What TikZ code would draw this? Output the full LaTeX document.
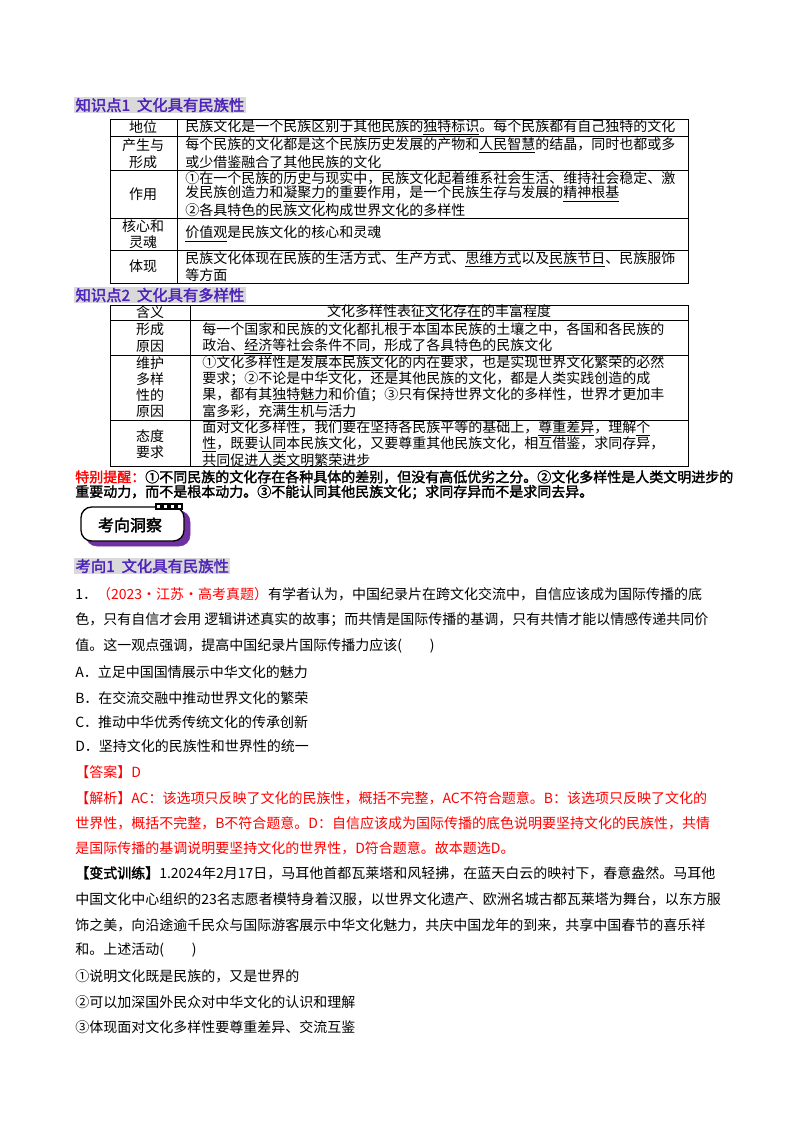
\documentclass[tikz,border=0pt]{standalone}
\usepackage{fontspec}
\setmainfont{Noto Sans CJK SC}[AutoFakeBold=2]
\begin{document}
\begin{tikzpicture}[x=0.75pt,y=-0.75pt,
 L/.style={anchor=west,inner sep=0pt,font=\fontsize{10.5}{12}\selectfont},
 C/.style={inner sep=0pt,font=\fontsize{10.5}{12}\selectfont},
 R/.style={L,text=red},
 H/.style={anchor=west,inner sep=1pt,fill=black!15,text=purple!70!blue,font=\fontsize{11.5}{13}\selectfont\bfseries},
 tb/.style={line width=0.6pt}]
\definecolor{purple}{HTML}{7030A0}
\useasboundingbox (0,0) rectangle (800,1132);
% ---- heading 1
\node[H] (h1) at (74,105) {知识点1\ \ 文化具有民族性};
\draw[tb] (110,119) rectangle (688,283);
\foreach \y in {136,170,218,250} \draw[tb] (110,\y) -- (688,\y);
\draw[tb] (177,119) -- (177,283);
\node[C] at (143,127) {地位};
\node[C] at (143,145) {产生与}; \node[C] at (143,162) {形成};
\node[C] at (143,194) {作用};
\node[C] at (143,226) {核心和}; \node[C] at (143,242) {灵魂};
\node[C] at (143,266) {体现};
\node[L] at (185,127) {民族文化是一个民族区别于其他民族的\underline{独特标识}。每个民族都有自己独特的文化};
\node[L] at (185,145) {每个民族的文化都是这个民族历史发展的产物和\underline{人民智慧}的结晶，同时也都或多};
\node[L] at (185,162) {或少借鉴融合了其他民族的文化};
\node[L] at (185,178) {①在一个民族的历史与现实中，民族文化起着维系社会生活、维持社会稳定、激};
\node[L] at (185,194) {发民族创造力和\underline{凝聚力}的重要作用，是一个民族生存与发展的\underline{精神根基}};
\node[L] at (185,210) {②各具特色的民族文化构成世界文化的多样性};
\node[L] at (185,234) {\underline{价值观}是民族文化的核心和灵魂};
\node[L] at (185,259) {民族文化体现在民族的生活方式、生产方式、\underline{思维方式}以及\underline{民族节日}、民族服饰};
\node[L] at (185,275) {等方面};
% ---- heading 2
\node[H] (h2) at (74,295) {知识点2\ \ 文化具有多样性};
\draw[tb] (110,305) rectangle (688,466);
\foreach \y in {320,355,420} \draw[tb] (110,\y) -- (688,\y);
\draw[tb] (190,305) -- (190,466);
\node[C] at (150,312) {含义};
\node[C] at (150,329) {形成}; \node[C] at (150,346) {原因};
\node[C] at (150,363) {维护}; \node[C] at (150,379) {多样}; \node[C] at (150,395) {性的}; \node[C] at (150,411) {原因};
\node[C] at (150,436) {态度}; \node[C] at (150,452) {要求};
\node[C] at (439,312) {文化多样性表征\underline{文化存在}的丰富程度};
\node[L] at (202,329) {每一个国家和民族的文化都扎根于本国本民族的土壤之中，各国和各民族的};
\node[L] at (202,346) {政治、\underline{经济}等社会条件不同，形成了各具特色的民族文化};
\node[L] at (202,363) {①文化多样性是发展\underline{本民族文化}的内在要求，也是实现世界文化繁荣的必然};
\node[L] at (202,379) {要求；②不论是中华文化，还是其他民族的文化，都是人类实践创造的成};
\node[L] at (202,395) {果，都有其\underline{独特魅力}和价值；③只有保持世界文化的多样性，世界才更加丰};
\node[L] at (202,411) {富多彩，充满生机与活力};
\node[L] at (202,428) {面对文化多样性，我们要在坚持各民族平等的基础上，\underline{尊重差异}，理解\underline{个}};
\node[L] at (202,444) {\underline{性}，既要\underline{认同}本民族文化，又要尊重其他民族文化，相互借鉴，求同存异，};
\node[L] at (202,460) {共同促进人类文明繁荣进步};
% ---- reminder
\node[L,font=\fontsize{10.5}{12}\selectfont\bfseries] at (75,477) {\textcolor{red}{特别提醒：}①不同民族的文化存在各种具体的差别，但没有高低优劣之分。②文化多样性是人类文明进步的};
\node[L,font=\fontsize{10.5}{12}\selectfont\bfseries] at (75,492) {重要动力，而不是根本动力。③不能认同其他民族文化；求同存异而不是求同去异。};
% ---- badge
\draw[fill=purple,draw=purple,rounded corners=8pt] (86,511) rectangle (190,546);
\draw[fill=white,line width=1pt,rounded corners=8pt] (81,507) rectangle (184,541);
\foreach \i in {0,1,2,3} \draw[fill=white,line width=0.8pt] (156+\i*7,504) rectangle (161+\i*7,509);
\node[C,font=\fontsize{12}{14}\selectfont\bfseries] (bd) at (130,525) {考向洞察};
% ---- heading 3
\node[H] (h3) at (74,566) {考向1\ \ 文化具有民族性};
% ---- question
\node[L] at (75,594) {1．\textcolor{red}{（2023·江苏·高考真题）}有学者认为，中国纪录片在跨文化交流中，自信应该成为国际传播的底};
\node[L] at (75,620) {色，只有自信才会用\ 逻辑讲述真实的故事；而共情是国际传播的基调，只有共情才能以情感传递共同价};
\node[L] at (75,646) {值。这一观点强调，提高中国纪录片国际传播力应该(\qquad)};
\node[L] at (75,672) {A．立足中国国情展示中华文化的魅力};
\node[L] at (75,698) {B．在交流交融中推动世界文化的繁荣};
\node[L] at (75,722) {C．推动中华优秀传统文化的传承创新};
\node[L] at (75,746) {D．坚持文化的民族性和世界性的统一};
\node[R] at (75,772) {【答案】D};
\node[R] at (75,798) {【解析】AC：该选项只反映了文化的民族性，概括不完整，AC不符合题意。B：该选项只反映了文化的};
\node[R] at (75,823) {世界性，概括不完整，B不符合题意。D：自信应该成为国际传播的底色说明要坚持文化的民族性，共情};
\node[R] at (75,848) {是国际传播的基调说明要坚持文化的世界性，D符合题意。故本题选D。};
\node[L] at (75,873) {\textbf{【变式训练】}1.2024年2月17日，马耳他首都瓦莱塔和风轻拂，在蓝天白云的映衬下，春意盎然。马耳他};
\node[L] at (75,899) {中国文化中心组织的23名志愿者模特身着汉服，以世界文化遗产、欧洲名城古都瓦莱塔为舞台，以东方服};
\node[L] at (75,925) {饰之美，向沿途逾千民众与国际游客展示中华文化魅力，共庆中国龙年的到来，共享中国春节的喜乐祥};
\node[L] at (75,950) {和。上述活动(\qquad)};
\node[L] at (75,976) {①说明文化既是民族的，又是世界的};
\node[L] at (75,1002) {②可以加深国外民众对中华文化的认识和理解};
\node[L] at (75,1027) {③体现面对文化多样性要尊重差异、交流互鉴};
\end{tikzpicture}
\end{document}
